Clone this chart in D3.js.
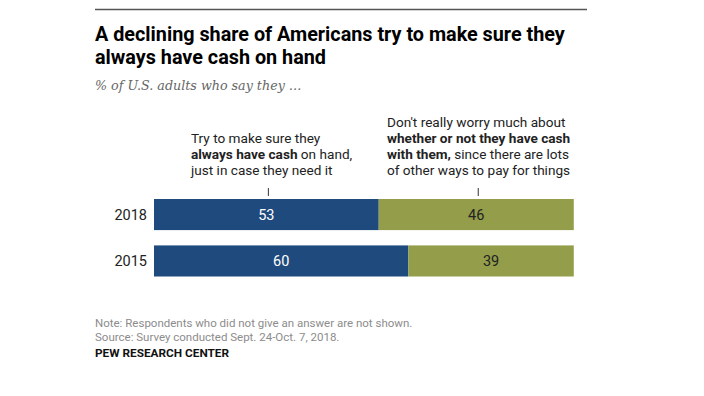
<!DOCTYPE html>
<html>
<head>
<meta charset="utf-8">
<script src="https://cdn.jsdelivr.net/npm/d3@7"></script>
<style>
html,body{margin:0;padding:0;background:#fff;}
svg{display:block;}
</style>
</head>
<body>
<svg id="chart" width="704" height="396"></svg>
<script>
const years = ["2018", "2015"];
const alwaysCash = [53, 60];
const dontWorry = [46, 39];
const seriesNames = ["alwaysCash", "dontWorry"];
const colors = ["#1f4a7d", "#939d4a"];

const svg = d3.select("#chart");
const sans = "Roboto, 'Liberation Sans', Arial, sans-serif";

// top rule
svg.append("line").attr("x1", 95).attr("x2", 587).attr("y1", 9.5).attr("y2", 9.5)
  .attr("stroke", "#555").attr("stroke-width", 1.4);

// title
const title = svg.append("text").attr("font-family", sans).attr("font-weight", 700)
  .attr("font-size", 19.8).attr("fill", "#000");
title.append("tspan").attr("x", 95).attr("y", 41).text("A declining share of Americans try to make sure they");
title.append("tspan").attr("x", 95).attr("y", 64).text("always have cash on hand");

svg.append("text").attr("x", 95).attr("y", 90)
  .attr("font-family", "'DejaVu Serif', Georgia, serif")
  .attr("font-style", "italic").attr("font-size", 12.7).attr("fill", "#666")
  .text("% of U.S. adults who say they …");

const x = d3.scaleLinear().domain([0, 100]).range([154, 578]);
const y = d3.scaleBand().domain(years).range([199, 276.5]).paddingInner(0.33).paddingOuter(0);

const rows = years.map((yr, i) => ({year: yr, alwaysCash: alwaysCash[i], dontWorry: dontWorry[i]}));
const stacked = d3.stack().keys(seriesNames)(rows);

const g = svg.append("g");
stacked.forEach((layer, li) => {
  g.selectAll(null).data(layer).enter().append("rect")
    .attr("x", d => x(d[0]))
    .attr("y", d => y(d.data.year))
    .attr("width", d => x(d[1]) - x(d[0]))
    .attr("height", y.bandwidth())
    .attr("fill", colors[li]);
  g.selectAll(null).data(layer).enter().append("text")
    .attr("x", d => (x(d[0]) + x(d[1])) / 2)
    .attr("y", d => y(d.data.year) + y.bandwidth() / 2 + 5)
    .attr("text-anchor", "middle")
    .attr("font-family", sans).attr("font-size", 14.5)
    .attr("fill", li === 0 ? "#fff" : "#222")
    .text(d => d.data[seriesNames[li]]);
});

// year labels
svg.selectAll(null).data(years).enter().append("text")
  .attr("x", 147).attr("y", d => y(d) + y.bandwidth() / 2 + 5)
  .attr("text-anchor", "end").attr("font-family", sans).attr("font-size", 14.5).attr("fill", "#222")
  .text(d => d);

// annotations
const first = stacked.map(layer => layer[0]);
const tickX = first.map(d => (x(d[0]) + x(d[1])) / 2);
svg.selectAll(null).data(tickX).enter().append("line")
  .attr("x1", d => d + 2).attr("x2", d => d + 2).attr("y1", 188).attr("y2", 196)
  .attr("stroke", "#333").attr("stroke-width", 1);

function lines(x0, y0, lh, arr) {
  const t = svg.append("text").attr("font-family", sans).attr("font-size", 13.6).attr("fill", "#222");
  arr.forEach((ln, i) => {
    const ts = t.append("tspan").attr("x", x0).attr("y", y0 + i * lh);
    ln.forEach((seg, j) => {
      const s = j === 0 ? ts : t.append("tspan");
      s.text(seg[0]).attr("font-weight", seg[1] ? 700 : 400);
    });
  });
}
lines(191, 142.7, 16.3, [
  [["Try to make sure they", false]],
  [["always have cash", true], [" on hand,", false]],
  [["just in case they need it", false]]
]);
lines(387, 126.5, 16.3, [
  [["Don't really worry much about", false]],
  [["whether or not they have cash", true]],
  [["with them,", true], [" since there are lots", false]],
  [["of other ways to pay for things", false]]
]);

// footer
const foot = svg.append("text").attr("font-family", sans).attr("font-size", 11.5).attr("fill", "#8c8c8c");
foot.append("tspan").attr("x", 95).attr("y", 327).text("Note: Respondents who did not give an answer are not shown.");
foot.append("tspan").attr("x", 95).attr("y", 341).text("Source: Survey conducted Sept. 24-Oct. 7, 2018.");
svg.append("text").attr("x", 95).attr("y", 357).attr("font-family", sans).attr("font-size", 11.8)
  .attr("font-weight", 700).attr("fill", "#111").text("PEW RESEARCH CENTER");
</script>
</body>
</html>
